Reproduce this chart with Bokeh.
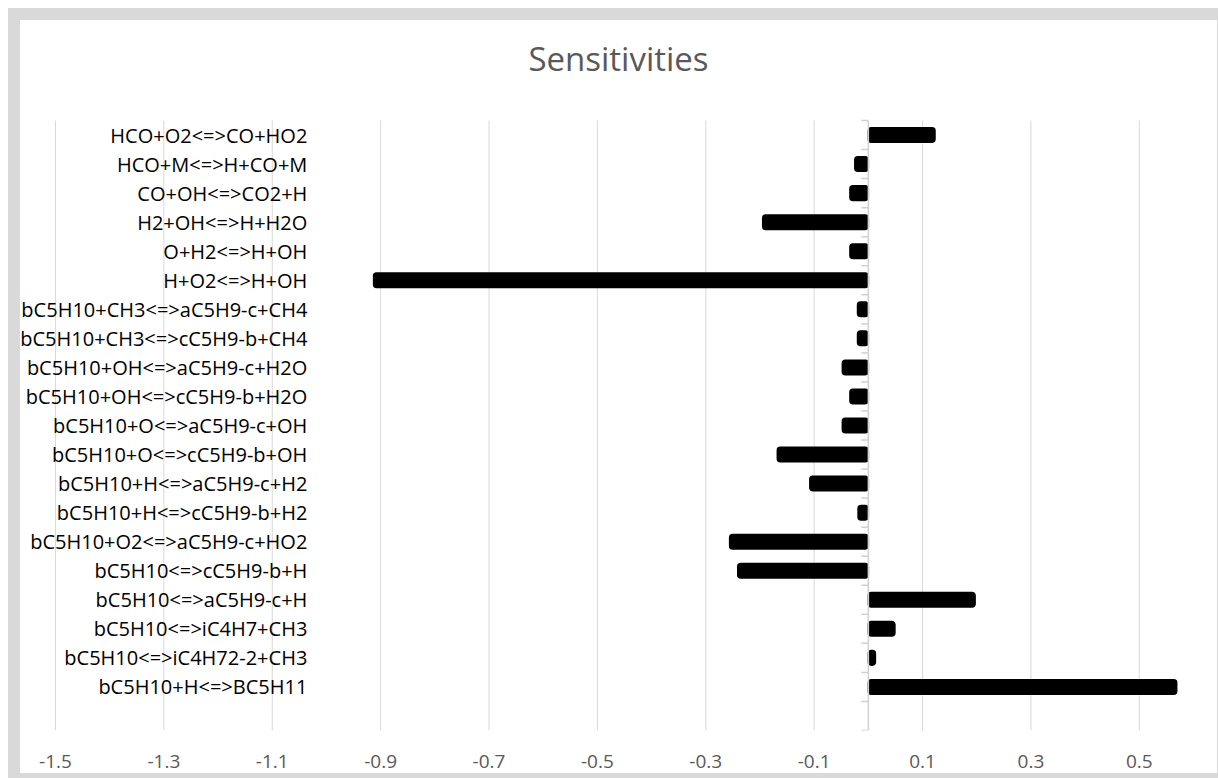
from bokeh.plotting import figure
from bokeh.models import LinearAxis, FixedTicker, Range1d, ColumnDataSource, Label
from bokeh.embed import file_html
from bokeh.resources import INLINE

# ---- data ----
title_text = "Sensitivities"
reactions = [
    "HCO+O2<=>CO+HO2",
    "HCO+M<=>H+CO+M",
    "CO+OH<=>CO2+H",
    "H2+OH<=>H+H2O",
    "O+H2<=>H+OH",
    "H+O2<=>H+OH",
    "bC5H10+CH3<=>aC5H9-c+CH4",
    "bC5H10+CH3<=>cC5H9-b+CH4",
    "bC5H10+OH<=>aC5H9-c+H2O",
    "bC5H10+OH<=>cC5H9-b+H2O",
    "bC5H10+O<=>aC5H9-c+OH",
    "bC5H10+O<=>cC5H9-b+OH",
    "bC5H10+H<=>aC5H9-c+H2",
    "bC5H10+H<=>cC5H9-b+H2",
    "bC5H10+O2<=>aC5H9-c+HO2",
    "bC5H10<=>cC5H9-b+H",
    "bC5H10<=>aC5H9-c+H",
    "bC5H10<=>iC4H7+CH3",
    "bC5H10<=>iC4H72-2+CH3",
    "bC5H10+H<=>BC5H11",
]
sensitivities = [
    0.123, -0.025, -0.034, -0.195, -0.034, -0.913, -0.020, -0.020,
    -0.048, -0.034, -0.048, -0.168, -0.108, -0.019, -0.256, -0.241,
    0.197, 0.049, 0.013, 0.569,
]
x_ticks = [-1.5, -1.3, -1.1, -0.9, -0.7, -0.5, -0.3, -0.1, 0.1, 0.3, 0.5]
x_tick_labels = ["-1.5", "-1.3", "-1.1", "-0.9", "-0.7", "-0.5", "-0.3", "-0.1",
                 "0.1", "0.3", "0.5"]

# ---- geometry (style) ----
n = len(reactions)
ypos = [n - i for i in range(n)]            # top row = n, bottom filled row = 1
bounds = [k - 0.5 for k in range(n + 2)]     # category boundaries -0.5 .. n+0.5
Y_LO, Y_HI = -0.5, n + 0.5                   # category area
X_START, X_END = -1.5646, 0.6
FRAME_W, CAT_H = 1173, 610
px_x = (X_END - X_START) / FRAME_W           # data units per pixel (x)
px_y = (Y_HI - Y_LO) / CAT_H                 # data units per pixel (y)
TOP_PAD = 100                                # room for the title inside the frame
tick_len = 7 * px_x

src = ColumnDataSource(dict(y=ypos, right=sensitivities, left=[0.0] * n))
grid_src = ColumnDataSource(dict(x=x_ticks, y0=[Y_LO] * len(x_ticks),
                                 y1=[Y_HI] * len(x_ticks)))
tick_src = ColumnDataSource(dict(y=bounds, x0=[0.0] * len(bounds),
                                 x1=[-tick_len] * len(bounds)))

p = figure(
    width=1210, height=770, title=None,
    x_range=Range1d(X_START, X_END), y_range=Range1d(Y_LO, Y_HI + TOP_PAD * px_y),
    output_backend="svg", toolbar_location=None,
    min_border_left=0, min_border_right=37, min_border_top=0, min_border_bottom=60,
    outline_line_color=None, background_fill_color="white", border_fill_color="white",
)
p.styles = {"border-style": "solid", "border-color": "#d9d9d9",
            "border-width": "12px 1px 5px 12px", "margin": "8px 0 0 8px"}

# x axis (bottom)
xax = p.below[0]
xax.ticker = FixedTicker(ticks=x_ticks)
xax.major_label_overrides = {t: s for t, s in zip(x_ticks, x_tick_labels)}
xax.axis_line_color = None
xax.major_tick_line_color = None
xax.minor_tick_line_color = None
xax.major_label_text_font = "Open Sans"
xax.major_label_text_font_size = "19px"
xax.major_label_text_color = "#595959"
xax.major_label_standoff = 18

p.xgrid.grid_line_color = None
p.ygrid.grid_line_color = None

# vertical gridlines over the category area only
p.segment(x0="x", x1="x", y0="y0", y1="y1", source=grid_src,
          line_color="#d9d9d9", line_width=1)

p.hbar(y="y", left="left", right="right", height=0.5, source=src,
       fill_color="black", line_color="black", line_width=1.5,
       line_join="round", border_radius=3)

# vertical axis line at zero with category boundary ticks
p.segment(x0=0, x1=0, y0=Y_LO, y1=Y_HI, line_color="#d0d0d0", line_width=1.5)
p.segment(x0="x0", x1="x1", y0="y", y1="y", source=tick_src,
          line_color="#d0d0d0", line_width=1.5)

# default y axis hidden
p.yaxis.visible = False

# category label axis, drawn inside the plot area
lab_axis = LinearAxis(
    fixed_location=-1.015,
    ticker=FixedTicker(ticks=ypos),
    major_label_overrides={y: r for y, r in zip(ypos, reactions)},
    axis_line_color=None, major_tick_line_color=None, minor_tick_line_color=None,
    major_label_text_font="Open Sans", major_label_text_font_size="20px",
    major_label_text_color="#000000", major_label_standoff=5,
)
p.add_layout(lab_axis, "left")

# chart title
p.add_layout(Label(x=X_START + (618 - 20) * px_x, y=Y_HI + 62 * px_y,
                   text=title_text, text_align="center", text_baseline="middle",
                   text_font="Open Sans", text_font_size="33px",
                   text_color="#595959"))

open("out.html", "w").write(file_html(p, INLINE))
